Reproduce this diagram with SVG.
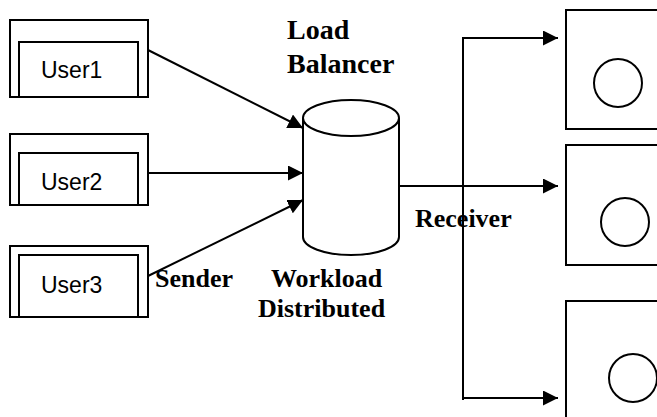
<svg xmlns="http://www.w3.org/2000/svg" width="657" height="417" viewBox="0 0 657 417">
<style>
.box{fill:#fff;stroke:#000;stroke-width:2}
.ln{fill:none;stroke:#000;stroke-width:2}
.u{font-family:"Liberation Sans",Arial,sans-serif;font-size:23px;fill:#000}
.b{font-family:"Liberation Serif","Times New Roman",serif;font-size:26px;font-weight:bold;fill:#000}
.t{font-size:28px}
</style>
<defs>
<marker id="ah2" viewBox="0 0 10 10" refX="10" refY="5" markerWidth="15" markerHeight="15" markerUnits="userSpaceOnUse" orient="auto">
<path d="M0,0 L10,5 L0,10 z" fill="#000"/>
</marker>
</defs>
<rect width="657" height="417" fill="#fff"/>
<g id="user1">
<rect class="box" x="10" y="20" width="138" height="77"/>
<rect class="box" x="19" y="42" width="119" height="55"/>
<text class="u" x="41" y="78">User1</text>
</g>
<g id="user2">
<rect class="box" x="10" y="134" width="138" height="71"/>
<rect class="box" x="19" y="153" width="119" height="52"/>
<text class="u" x="41" y="190">User2</text>
</g>
<g id="user3">
<rect class="box" x="10" y="246" width="138" height="71"/>
<rect class="box" x="19" y="255" width="119" height="62"/>
<text class="u" x="41" y="293">User3</text>
</g>
<g id="loadbalancer">
<path class="box" d="M303,118 L303,237 A48,18 0 0 0 399,237 L399,118 A48,18 0 0 0 303,118 Z"/>
<path class="ln" d="M303,118 A48,18 0 0 0 399,118"/>
</g>
<g id="server1">
<rect class="box" x="566" y="10" width="100" height="119"/>
<circle class="box" cx="618" cy="83" r="24"/>
</g>
<g id="server2">
<rect class="box" x="566" y="145" width="100" height="120"/>
<circle class="box" cx="625" cy="222" r="24"/>
</g>
<g id="server3">
<rect class="box" x="566" y="301" width="100" height="130"/>
<circle class="box" cx="633" cy="378" r="24"/>
</g>
<g id="connectors">
<line class="ln" x1="148" y1="50" x2="303" y2="128" marker-end="url(#ah2)"/>
<line class="ln" x1="148" y1="173" x2="303" y2="173" marker-end="url(#ah2)"/>
<line class="ln" x1="148" y1="276" x2="303" y2="200" marker-end="url(#ah2)"/>
<line class="ln" x1="399" y1="186" x2="558" y2="186" marker-end="url(#ah2)"/>
<line class="ln" x1="463" y1="37" x2="463" y2="400"/>
<line class="ln" x1="462" y1="38" x2="558" y2="38" marker-end="url(#ah2)"/>
<line class="ln" x1="462" y1="398" x2="558" y2="398" marker-end="url(#ah2)"/>
</g>
<g id="labels">
<text class="b t" x="287" y="39">Load</text>
<text class="b t" x="287" y="73">Balancer</text>
<text class="b" x="155" y="287">Sender</text>
<text class="b" x="271" y="287">Workload</text>
<text class="b" x="258" y="317">Distributed</text>
<text class="b" x="415" y="227">Receiver</text>
</g>
</svg>
